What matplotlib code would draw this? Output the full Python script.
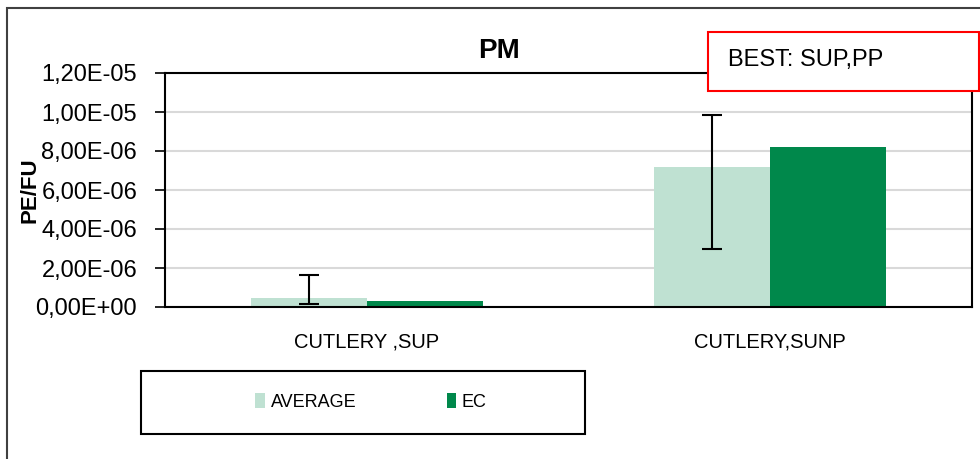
import matplotlib
matplotlib.use("Agg")
import matplotlib.pyplot as plt
from matplotlib.patches import Rectangle, Patch
from matplotlib.ticker import FuncFormatter
import numpy as np

categories = ["CUTLERY ,SUP", "CUTLERY,SUNP"]
series_names = ["AVERAGE", "EC"]
average_vals = [4.6e-7, 7.18e-6]
ec_vals = [3.3e-7, 8.22e-6]
err_low = [1.5e-7, 2.96e-6]
err_high = [1.64e-6, 9.83e-6]
yticks = [0, 2e-6, 4e-6, 6e-6, 8e-6, 1e-5, 1.2e-5]
title = "PM"
ylabel = "PE/FU"
note = "BEST: SUP,PP"

c_avg = "#bfe1d2"
c_ec = "#00884b"

plt.rcParams['font.family'] = ['Liberation Sans', 'DejaVu Sans']

W, H = 980, 459
fig = plt.figure(figsize=(W / 100, H / 100), dpi=100)

def fx(px):
    return px / W

def fy(py):
    return 1 - py / H

# outer border
fig.patches.append(Rectangle((fx(7), fy(470)), fx(1000) - fx(7), fy(8) - fy(470),
                             transform=fig.transFigure, fill=False,
                             edgecolor="#404040", linewidth=1.5, clip_on=False))

ax = fig.add_axes([fx(165), fy(307), fx(972) - fx(165), fy(73) - fy(307)])
x = np.arange(len(categories))
bw = 0.2875
ax.bar(x - bw / 2, average_vals, width=bw, color=c_avg, zorder=2)
ax.bar(x + bw / 2, ec_vals, width=bw, color=c_ec, zorder=2)

mid = [(lo + hi) / 2 for lo, hi in zip(err_low, err_high)]
half = [(hi - lo) / 2 for lo, hi in zip(err_low, err_high)]
ax.errorbar(x - bw / 2, mid, yerr=half, fmt='none', ecolor='black',
            elinewidth=1.5, capsize=7, capthick=1.5, zorder=3)

ax.set_xlim(-0.5, len(categories) - 0.5)
ax.set_ylim(0, 1.2e-5)
ax.set_yticks(yticks)
ax.yaxis.set_major_formatter(FuncFormatter(lambda v, p: ("%.2E" % v).replace(".", ",")))
ax.set_xticks(x)
ax.set_xticklabels(categories, fontsize=14.5)
ax.tick_params(axis='x', length=0, pad=18)
ax.tick_params(axis='y', length=7, width=1.2, labelsize=17, pad=13, direction='out')
ax.grid(axis='y', color='#d9d9d9', linewidth=1.5, zorder=0)
ax.set_axisbelow(True)
for s in ax.spines.values():
    s.set_color('black')
    s.set_linewidth(1.5)

fig.text(fx(499), fy(51), title, ha='center', va='center', fontsize=20, fontweight='bold')
fig.text(fx(30), fy(190), ylabel, ha='center', va='center', rotation=90,
         fontsize=16, fontweight='bold')

# note box
fig.patches.append(Rectangle((fx(708), fy(91)), fx(979) - fx(708), fy(32) - fy(91),
                             transform=fig.transFigure, facecolor='white',
                             edgecolor='#ff0000', linewidth=1.5, zorder=5))
fig.text(fx(728), fy(60), note, ha='left', va='center', fontsize=17, zorder=6)

# legend box
fig.patches.append(Rectangle((fx(141), fy(434)), fx(585) - fx(141), fy(371) - fy(434),
                             transform=fig.transFigure, fill=False,
                             edgecolor='black', linewidth=1.5))
handles = [Patch(facecolor=c_avg), Patch(facecolor=c_ec)]
fig.legend(handles, series_names, loc='center', bbox_to_anchor=(fx(371), fy(402)),
           ncol=2, frameon=False, fontsize=13, handlelength=0.55, handleheight=0.9,
           handletextpad=0.3, columnspacing=5.0)

fig.savefig("out.png", dpi=100)
